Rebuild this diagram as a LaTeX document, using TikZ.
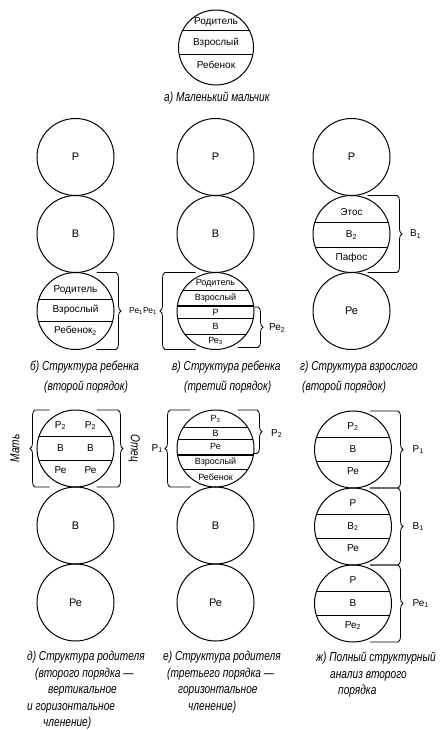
\documentclass[tikz,border=0pt]{standalone}
\usepackage{fontspec}
\setmainfont{Liberation Sans}
\newfontfamily\capfont[FakeStretch=0.78]{Liberation Sans}
\usepackage{tikz}
\usetikzlibrary{positioning, calc, decorations.pathreplacing}

\tikzset{
  ego/.style={draw, circle, line width=1pt, minimum size=77pt, inner sep=0pt, outer sep=0pt, font=\fontsize{11}{13}\selectfont},
  cuts/.style={path picture={\foreach \d in {#1} \draw[line width=0.8pt] ($(path picture bounding box.west)+(0,\d)$) -- ($(path picture bounding box.east)+(0,\d)$);}},
  cutsx/.style 2 args={path picture={\foreach \d in {#1} \draw[line width=0.8pt] ($(path picture bounding box.west)+(0,\d)$) -- ($(path picture bounding box.east)+(0,\d)$);
    \foreach \d in {#2} \draw[line width=2pt] ($(path picture bounding box.west)+(0,\d)$) -- ($(path picture bounding box.east)+(0,\d)$);}},
  sec/.style={inner sep=1pt, font=\fontsize{10}{12}\selectfont},
  secs/.style={inner sep=1pt, font=\fontsize{9}{11}\selectfont},
  tag/.style={inner sep=1pt, font=\fontsize{10}{12}\selectfont},
  arm/.style={line width=0.8pt},
  curly/.style={decoration={brace, amplitude=5pt}},
  % base anchor = baseline of the last line
  legend/.style={anchor=base west, align=left, inner sep=0pt, font=\capfont\itshape\fontsize{13}{20}\selectfont},
  legendii/.style={anchor=base west, align=left, inner sep=0pt, font=\capfont\itshape\fontsize{13}{16.5}\selectfont}
}

\begin{document}
\begin{tikzpicture}[x=1pt, y=-1pt]
    \useasboundingbox (0,0) rectangle (440,730);

    % а) little boy
    \node (boy) [ego, minimum size=75pt, cuts={-17.5,6.5}] at (216,47.5) {};
    \node (boyp) [sec] at ($(boy)+(0,-25.5)$) {Родитель};
    \node (boyv) [sec] at ($(boy)+(0,-4.5)$) {Взрослый};
    \node (boyr) [sec] at ($(boy)+(0,17.5)$) {Ребенок};
    \node (capa) [legend] at (164,101.5) {а) Маленький мальчик};

    % б) child, second order
    \node (b1) [ego] at (75.5,157) {Р};
    \node (b2) [ego, below=0pt of b1] {В};
    \node (b3) [ego, below=0pt of b2, cuts={-12,10}] {};
    \node (b3p) [sec] at ($(b3)+(0,-21)$) {Родитель};
    \node (b3v) [sec] at ($(b3)+(0,-1)$) {Взрослый};
    \node (b3r) [sec] at ($(b3)+(0,20)$) {Ребенок\textsubscript{2}};
    \draw[arm] ($(b3.north)+(21,0)$) -- ($(b3.north -| b3.east)+(2,0)$) decorate[curly]{-- ($(b3.south -| b3.east)+(2,0)$)} -- ($(b3.south)+(21,0)$);
    \node (pe11) [tag, font=\fontsize{8.5}{10}\selectfont, right=14pt of b3] {Ре\textsubscript{1}Ре\textsubscript{1}};
    \node (capb) [legend] at (30,390.5) {б) Структура ребенка\\\hspace*{14pt}(второй порядок)};

    % в) child, third order
    \node (c1) [ego] at (215.5,157) {Р};
    \node (c2) [ego, below=0pt of c1] {В};
    \node (c3) [ego, below=0pt of c2, cutsx={-21,7,23}{-5}] {};
    \node (c3p) [secs] at ($(c3)+(0,-28)$) {Родитель};
    \node (c3v) [secs] at ($(c3)+(0,-13)$) {Взрослый};
    \node (c3a) [secs] at ($(c3)+(0,1)$) {Р};
    \node (c3b) [secs] at ($(c3)+(0,15)$) {В};
    \node (c3c) [secs] at ($(c3)+(0,30)$) {Ре\textsubscript{3}};
    \draw[arm] ($(c3.south)+(-20,0)$) -- ($(c3.south -| c3.west)+(-12,0)$) decorate[curly]{-- ($(c3.north -| c3.west)+(-12,0)$)} -- ($(c3.north)+(-20,0)$);
    \draw[arm] ($(c3.east)+(0,-4)$) -- ($(c3.east)+(4,-4)$) decorate[curly]{-- ($(c3.south -| c3.east)+(4,-2)$)} -- ($(c3.south)+(22,-2)$);
    \node (pe2) [tag, right=14pt of c3, yshift=-17pt] {Ре\textsubscript{2}};
    \node (capc) [legend] at (172,390.5) {в) Структура ребенка\\\hspace*{12pt}(третий порядок)};

    % г) adult, second order
    \node (d1) [ego] at (351.5,157) {Р};
    \node (d2) [ego, below=0pt of d1, cuts={-12,13}] {};
    \node (d3) [ego, below=0pt of d2] {Ре};
    \node (d2e) [sec] at ($(d2)+(0,-22)$) {Этос};
    \node (d2v) [sec] at ($(d2)+(0,1)$) {В\textsubscript{2}};
    \node (d2p) [sec] at ($(d2)+(0,24)$) {Пафос};
    \draw[arm] ($(d2.north)+(16,0)$) -- ($(d2.north -| d2.east)+(7,0)$) decorate[curly]{-- ($(d2.south -| d2.east)+(7,0)$)} -- ($(d2.south)+(16,0)$);
    \node (v1) [tag, right=19pt of d2] {В\textsubscript{1}};
    \node (capd) [legend] at (300,390.5) {г) Структура взрослого\\\hspace*{2pt}(второй порядок)};

    % д) parent, vertical and horizontal split
    \node (e1) [ego, cuts={-12,12}] at (75.5,448.5) {};
    \node (e2) [ego, below=0pt of e1] {В};
    \node (e3) [ego, below=0pt of e2] {Ре};
    \node (e1a) [sec] at ($(e1)+(-15,-23)$) {Р\textsubscript{2}};
    \node (e1b) [sec] at ($(e1)+(15,-23)$) {Р\textsubscript{2}};
    \node (e1c) [sec] at ($(e1)+(-15,0)$) {В};
    \node (e1d) [sec] at ($(e1)+(15,0)$) {В};
    \node (e1e) [sec] at ($(e1)+(-15,22)$) {Ре};
    \node (e1f) [sec] at ($(e1)+(15,22)$) {Ре};
    \draw[arm] ($(e1.south)+(-26,0)$) -- ($(e1.south -| e1.west)+(-2,0)$) decorate[curly]{-- ($(e1.north -| e1.west)+(-2,0)$)} -- ($(e1.north)+(-26,0)$);
    \draw[arm] ($(e1.north)+(21,0)$) -- ($(e1.north -| e1.east)+(4,0)$) decorate[curly]{-- ($(e1.south -| e1.east)+(4,0)$)} -- ($(e1.south)+(21,0)$);
    \node (mat) [rotate=90, font=\capfont\itshape\fontsize{13}{15}\selectfont] at ($(e1.west)+(-22,0)$) {Мать};
    \node (otec) [rotate=-90, font=\capfont\itshape\fontsize{13}{15}\selectfont] at ($(e1.east)+(20,0)$) {Отец};
    \node (cape) [legendii] at (27,726.5) {д) Структура родителя\\\hspace*{8pt}(второго порядка —\\\hspace*{21pt}вертикальное\\и горизонтальное\\\hspace*{16pt}членение)};

    % е) parent, third order
    \node (f1) [ego, cutsx={-21,-9,21}{6}] at (215.5,448.5) {};
    \node (f2) [ego, below=0pt of f1] {В};
    \node (f3) [ego, below=0pt of f2] {Ре};
    \node (f1a) [secs] at ($(f1)+(0,-30)$) {Р\textsubscript{3}};
    \node (f1b) [secs] at ($(f1)+(0,-15)$) {В};
    \node (f1c) [secs] at ($(f1)+(0,-2)$) {Ре};
    \node (f1d) [secs] at ($(f1)+(0,14)$) {Взрослый};
    \node (f1e) [secs] at ($(f1)+(0,29)$) {Ребенок};
    \draw[arm] ($(f1.south)+(-25,0)$) -- ($(f1.south -| f1.west)+(-7,0)$) decorate[curly]{-- ($(f1.north -| f1.west)+(-7,0)$)} -- ($(f1.north)+(-25,0)$);
    \draw[arm] ($(f1.north)+(22,0)$) -- ($(f1.north -| f1.east)+(3,0)$) decorate[curly]{-- ($(f1.east)+(3,5)$)} -- ($(f1.east)+(0,5)$);
    \node (p1) [tag, left=13pt of f1] {Р\textsubscript{1}};
    \node (p2) [tag, right=16pt of f1, yshift=15pt] {Р\textsubscript{2}};
    \node (capf) [legendii] at (163,710) {е) Структура родителя\\\hspace*{4pt}(третьего порядка —\\\hspace*{15pt}горизонтальное\\\hspace*{25pt}членение)};

    % ж) full structural analysis
    \node (g1) [ego, cuts={-12,12}] at (353,449.5) {};
    \node (g2) [ego, below=0pt of g1, cuts={-12,12}] {};
    \node (g3) [ego, below=0pt of g2, cuts={-12,12}] {};
    \node (g1a) [sec] at ($(g1)+(0,-23)$) {Р\textsubscript{2}};
    \node (g1b) [sec] at ($(g1)+(0,0)$) {В};
    \node (g1c) [sec] at ($(g1)+(0,22)$) {Ре};
    \node (g2a) [sec] at ($(g2)+(0,-23)$) {Р};
    \node (g2b) [sec] at ($(g2)+(0,0)$) {В\textsubscript{2}};
    \node (g2c) [sec] at ($(g2)+(0,22)$) {Ре};
    \node (g3a) [sec] at ($(g3)+(0,-23)$) {Р};
    \node (g3b) [sec] at ($(g3)+(0,0)$) {В};
    \node (g3c) [sec] at ($(g3)+(0,22)$) {Ре\textsubscript{2}};
    \foreach \g in {g1,g2,g3}
      \draw[arm] ($(\g.north)+(17,0)$) -- ($(\g.north -| \g.east)+(6.5,0)$) decorate[curly]{-- ($(\g.south -| \g.east)+(6.5,0)$)} -- ($(\g.south)+(17,0)$);
    \node (gp1) [tag, right=20pt of g1] {Р\textsubscript{1}};
    \node (gv1) [tag, right=20pt of g2] {В\textsubscript{1}};
    \node (gr1) [tag, right=20pt of g3] {Ре\textsubscript{1}};
    \node (capg) [legendii] at (316,694.5) {ж) Полный структурный\\\hspace*{14pt}анализ второго\\\hspace*{22pt}порядка};
\end{tikzpicture}
\end{document}
